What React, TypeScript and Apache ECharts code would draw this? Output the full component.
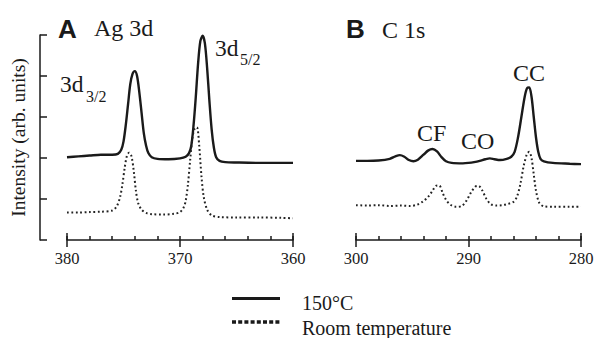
import React, { useEffect, useRef } from "react";
import * as echarts from "echarts";

// Ag 3d region, binding energy (eV) vs intensity (arb. units)
const agHot: [number, number][] = [
  [380, 2.02], [379, 2.04], [378, 2.06], [377, 2.08], [376, 2.08], [375.5, 2.1],
  [375.2, 2.2], [375.0, 2.4], [374.8, 2.8], [374.6, 3.3], [374.4, 3.8], [374.2, 4.05],
  [374.0, 4.12], [373.8, 4.0], [373.6, 3.6], [373.4, 3.1], [373.2, 2.6], [373.0, 2.3],
  [372.8, 2.12], [372.5, 2.02], [372, 1.98], [371, 1.97], [370, 1.99], [369.5, 2.03],
  [369.2, 2.12], [369.0, 2.3], [368.8, 2.8], [368.6, 3.5], [368.4, 4.3], [368.2, 4.85],
  [368.0, 4.98], [367.8, 4.8], [367.6, 4.2], [367.4, 3.4], [367.2, 2.7], [367.0, 2.25],
  [366.8, 2.02], [366.5, 1.93], [366, 1.9], [365, 1.89], [363, 1.88], [361, 1.88], [360, 1.88],
];
const agRoom: [number, number][] = [
  [380, 0.67], [379, 0.67], [378, 0.68], [377, 0.69], [376.0, 0.72], [375.6, 0.82],
  [375.3, 1.05], [375.1, 1.35], [374.9, 1.75], [374.7, 2.05], [374.5, 2.13], [374.3, 2.05],
  [374.1, 1.7], [373.9, 1.2], [373.7, 0.9], [373.4, 0.74], [373.0, 0.66], [372.5, 0.63],
  [371.5, 0.62], [370.5, 0.64], [370, 0.68], [369.7, 0.78], [369.5, 0.95], [369.3, 1.35],
  [369.1, 1.95], [368.9, 2.5], [368.7, 2.72], [368.5, 2.75], [368.3, 2.3], [368.1, 1.55],
  [367.9, 1.05], [367.6, 0.74], [367.2, 0.6], [366.5, 0.56], [365, 0.55], [363, 0.55],
  [361, 0.54], [360, 0.53],
];
// C 1s region
const cHot: [number, number][] = [
  [300, 1.93], [299, 1.93], [298, 1.94], [297, 1.98], [296.5, 2.04], [296.1, 2.07],
  [295.7, 2.03], [295.3, 1.95], [294.9, 1.92], [294.5, 1.96], [294.0, 2.08], [293.6, 2.18],
  [293.2, 2.22], [292.8, 2.16], [292.4, 2.02], [292.0, 1.92], [291.5, 1.88], [290.5, 1.87],
  [290, 1.88], [289.5, 1.9], [289, 1.93], [288.5, 1.97], [288.1, 1.99], [287.7, 1.97],
  [287.2, 1.95], [286.6, 1.98], [286.2, 2.03], [285.9, 2.15], [285.6, 2.5], [285.3, 3.0],
  [285.0, 3.5], [284.8, 3.7], [284.6, 3.72], [284.4, 3.5], [284.2, 3.0], [284.0, 2.5],
  [283.8, 2.15], [283.6, 1.98], [283.3, 1.92], [282.5, 1.88], [281, 1.86], [280, 1.85],
];
const cRoom: [number, number][] = [
  [300, 0.85], [299, 0.84], [298, 0.85], [297, 0.83], [296, 0.84], [295.2, 0.83],
  [294.6, 0.86], [294.1, 0.93], [293.6, 1.05], [293.2, 1.2], [292.9, 1.32], [292.6, 1.33],
  [292.3, 1.15], [292.0, 0.98], [291.6, 0.86], [291.1, 0.81], [290.6, 0.83], [290.2, 0.95],
  [289.8, 1.15], [289.4, 1.3], [289.1, 1.32], [288.8, 1.22], [288.4, 1.0], [288.0, 0.87],
  [287.5, 0.84], [287.0, 0.85], [286.5, 0.88], [286.0, 0.93], [285.7, 1.05], [285.4, 1.35],
  [285.1, 1.8], [284.8, 2.1], [284.6, 2.15], [284.4, 2.0], [284.2, 1.6], [284.0, 1.2],
  [283.7, 0.9], [283.3, 0.82], [282.5, 0.81], [281, 0.81], [280, 0.81],
];

const agRange = [360, 380];
const cRange = [280, 300];
const yRange = [0, 5];
const legendNames = ["150°C", "Room temperature"];
const yName = "Intensity (arb. units)";

const SERIF = "Liberation Serif";
const SANS = "Liberation Sans";
const INK = "#1a1a1a";

export default function App() {
  const ref = useRef<HTMLDivElement>(null);
  useEffect(() => {
    if (!ref.current) return;
    const chart = echarts.init(ref.current, undefined, { renderer: "svg" });

    const gridA = { left: 67, right: 310, top: 35, bottom: 98 };
    const gridB = { left: 356, right: 22, top: 35, bottom: 98 };
    const grids = [gridA, gridA, gridA, gridB, gridB, gridB];

    const mainX = (r: number[], gi: number) => ({
      type: "value", gridIndex: gi, min: r[0], max: r[1], interval: 10, inverse: true,
      axisLine: { show: true, lineStyle: { color: INK, width: 1.5 } },
      axisTick: { show: true, inside: false, length: 7, lineStyle: { color: INK, width: 1.5 } },
      axisLabel: { show: true, fontFamily: SERIF, fontSize: 16.5, color: INK, margin: 10 },
      splitLine: { show: false },
    });
    const tickX = (r: number[], gi: number, interval: number, len: number) => ({
      type: "value", gridIndex: gi, min: r[0], max: r[1], interval, inverse: true,
      axisLine: { show: false },
      axisTick: { show: true, inside: true, length: len, lineStyle: { color: INK, width: 1.5 } },
      axisLabel: { show: false },
      splitLine: { show: false },
    });
    const hiddenY = (gi: number) => ({
      type: "value", gridIndex: gi, min: yRange[0], max: yRange[1], interval: 1, show: false,
    });
    const txt = (text: string, x: number, y: number, size: number, family = SERIF, weight = "normal") => ({
      type: "text", x, y,
      style: { text, fontFamily: family, fontSize: size, fontWeight: weight, fill: INK, verticalAlign: "middle", align: "left" },
    });

    const dotted = { color: "#222", width: 2, type: [1.8, 2.6] };

    const option: any = {
      animation: false,
      grid: grids.map((g) => ({ ...g })),
      xAxis: [
        mainX(agRange, 0), tickX(agRange, 1, 2, 4), tickX(agRange, 2, 20, 7),
        mainX(cRange, 3), tickX(cRange, 4, 2, 4), tickX(cRange, 5, 20, 7),
      ],
      yAxis: [
        {
          type: "value", gridIndex: 0, min: yRange[0], max: yRange[1], interval: 1, offset: 27,
          axisLine: { show: true, lineStyle: { color: INK, width: 1.5 } },
          axisTick: { show: true, inside: true, length: 7, lineStyle: { color: INK, width: 1.5 } },
          axisLabel: { show: false },
          splitLine: { show: false },
          name: yName, nameLocation: "middle", nameGap: 12,
          nameTextStyle: { fontFamily: SERIF, fontSize: 19.5, color: INK },
        },
        hiddenY(1), hiddenY(2), hiddenY(3), hiddenY(4), hiddenY(5),
      ],
      series: [
        { name: legendNames[0], type: "line", xAxisIndex: 0, yAxisIndex: 0, data: agHot, showSymbol: false, smooth: 0.3, lineStyle: { color: INK, width: 2.4 } },
        { name: legendNames[1], type: "line", xAxisIndex: 0, yAxisIndex: 0, data: agRoom, showSymbol: false, smooth: 0.3, lineStyle: dotted },
        { name: legendNames[0], type: "line", xAxisIndex: 3, yAxisIndex: 3, data: cHot, showSymbol: false, smooth: 0.3, lineStyle: { color: INK, width: 2.4 } },
        { name: legendNames[1], type: "line", xAxisIndex: 3, yAxisIndex: 3, data: cRoom, showSymbol: false, smooth: 0.3, lineStyle: dotted },
      ],
      graphic: [
        txt("A", 58, 29, 26, SANS, "bold"),
        txt("Ag 3d", 94, 28, 24),
        txt("B", 346, 29, 26, SANS, "bold"),
        txt("C 1s", 382, 30, 24),
        txt("3d", 60, 84, 23.5),
        txt("3/2", 86, 96, 16),
        txt("3d", 215, 48, 23.5),
        txt("5/2", 240, 59, 16),
        txt("CF", 417, 133, 24),
        txt("CO", 461, 141, 24),
        txt("CC", 513, 73, 24),
        { type: "line", shape: { x1: 232, y1: 298.5, x2: 280, y2: 298.5 }, style: { stroke: INK, lineWidth: 3.2 } },
        { type: "line", shape: { x1: 232, y1: 322, x2: 280, y2: 322 }, style: { stroke: INK, lineWidth: 3.5, lineDash: [4, 2.2] } },
        txt(legendNames[0], 302, 303, 20),
        txt(legendNames[1], 302, 328, 20),
      ],
    };
    chart.setOption(option);
    return () => chart.dispose();
  }, []);
  return (
    <div
      ref={ref}
      style={{ position: "absolute", left: 0, top: 0, width: 603, height: 338, background: "#fff" }}
    />
  );
}
